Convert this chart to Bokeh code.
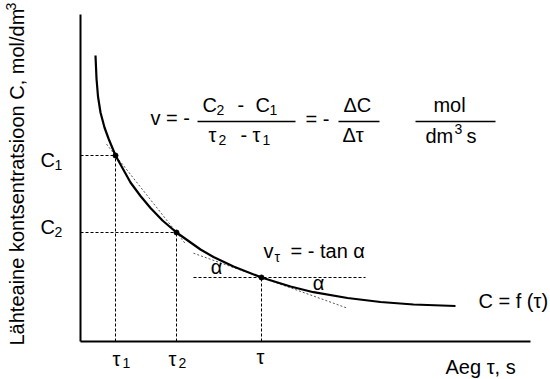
import math
from bokeh.plotting import figure
from bokeh.models import Range1d
from bokeh.core.properties import value
from bokeh.embed import file_html
from bokeh.resources import INLINE

# ---- data (arbitrary units: tau along time axis, C along concentration axis) ----
tau_curve = [15, 16, 17.5, 20, 24, 28, 35, 50, 60, 70, 82, 96, 120, 133, 153, 181, 210, 233, 267, 300, 333, 375]
C_curve = [286, 263, 245, 229, 214, 203, 186, 159, 145.5, 133.5, 121, 109, 92, 84.5, 75, 64, 55, 49.3, 43.5, 39.5, 37, 35.5]
point_names = ["τ1", "τ2", "τ"]
tau_points = [35, 96, 181]
C_points = [186, 109, 64]
tangent_slope = -0.357          # dC/dtau at tau
tangent_tau = [113, 267]
chord_ext = 9                   # chord drawn a little past both points
tau_axis_end = 450
C_axis_end = 327

FONT = "Liberation Sans"
F = "20px"
FS = "14px"
DY = 8   # correction for the svg text baseline

p = figure(width=550, height=379, x_range=Range1d(-80, 470), y_range=Range1d(-38, 341),
           toolbar_location=None, output_backend="svg", min_border=0,
           x_axis_type=None, y_axis_type=None)
p.grid.visible = False
p.outline_line_color = None
p.background_fill_color = "white"


def X(px):
    return px - 80


def Y(py):
    return 341 - py


# axes
p.line([0, 0], [0, C_axis_end], line_color="black", line_width=2)
p.line([0, tau_axis_end], [0, 0], line_color="black", line_width=2)

# dashed guides to the axes
for t, c in zip(tau_points[:2], C_points[:2]):
    p.line([0, t], [c, c], line_color="black", line_width=1, line_dash="3 2")
for t, c in zip(tau_points, C_points):
    p.line([t, t], [0, c], line_color="black", line_width=1, line_dash="3 2")
p.line([113, 285], [C_points[2], C_points[2]], line_color="black", line_width=1, line_dash="3 2")

# chord between the first two points
t1, t2 = tau_points[0], tau_points[1]
c1, c2 = C_points[0], C_points[1]
s = (c2 - c1) / (t2 - t1)
p.line([t1 - chord_ext, t2 + chord_ext], [c1 - s * chord_ext, c2 + s * chord_ext],
       line_color="#555555", line_width=1, line_dash="2 2")

# tangent at tau
t3, c3 = tau_points[2], C_points[2]
p.line(tangent_tau, [c3 + tangent_slope * (tt - t3) for tt in tangent_tau],
       line_color="#555555", line_width=1, line_dash="2 2")

# curve
p.line(tau_curve, C_curve, line_color="black", line_width=2.2)
p.scatter(tau_points, C_points, size=5, color="black")


def txt(px, py, t, size=F, align="left"):
    p.text([X(px)], [Y(py) + DY], text=[t], text_font=value(FONT), text_font_size=size,
           text_align=align, text_baseline="alphabetic", text_color="black")


# y tick-like labels
txt(40, 167, "C"); txt(54, 172, "1", FS)
txt(40, 234, "C"); txt(54, 239, "2", FS)

# x tick-like labels
txt(112, 366, "τ"); txt(122, 370, "1", FS)
txt(168, 366, "τ"); txt(178, 370, "2", FS)
txt(256, 364, "τ")

# axis titles
txt(445, 374, "Aeg  τ, s")
p.text([X(16)], [Y(345)], text=["Lähteaine kontsentratsioon C, mol/dm"], text_font=value(FONT),
       text_font_size=F, text_align="left", text_baseline="middle", angle=math.pi / 2)
p.text([X(10)], [Y(10)], text=["3"], text_font=value(FONT),
       text_font_size=FS, text_align="left", text_baseline="middle", angle=math.pi / 2)

# rate formula
txt(150, 125, "v = -")
p.line([X(197), X(295)], [Y(121), Y(121)], line_color="black", line_width=1.3)
txt(202, 112, "C"); txt(216, 117, "2", FS)
txt(237, 112, "-")
txt(255, 112, "C"); txt(269, 117, "1", FS)
txt(208, 142, "τ"); txt(218, 147, "2", FS)
txt(240, 142, "-")
txt(252, 142, "τ"); txt(262, 147, "1", FS)
txt(305, 126, "= -")
p.line([X(338), X(379)], [Y(121), Y(121)], line_color="black", line_width=1.3)
txt(343, 112, "ΔC")
txt(342, 142, "Δτ")
p.line([X(415), X(495)], [Y(121), Y(121)], line_color="black", line_width=1.3)
txt(449, 112, "mol", F, "center")
txt(425, 143, "dm"); txt(454, 136, "3", FS); txt(466, 143, "s")

# tangent annotation
txt(263, 258, "v"); txt(274, 264, "τ", FS)
txt(290, 258, "= - tan α")
txt(216, 274, "α", F, "center")
txt(318, 290, "α", F, "center")

# curve label
txt(478, 308, "C = f (τ)")

open("out.html", "w").write(file_html(p, INLINE))
